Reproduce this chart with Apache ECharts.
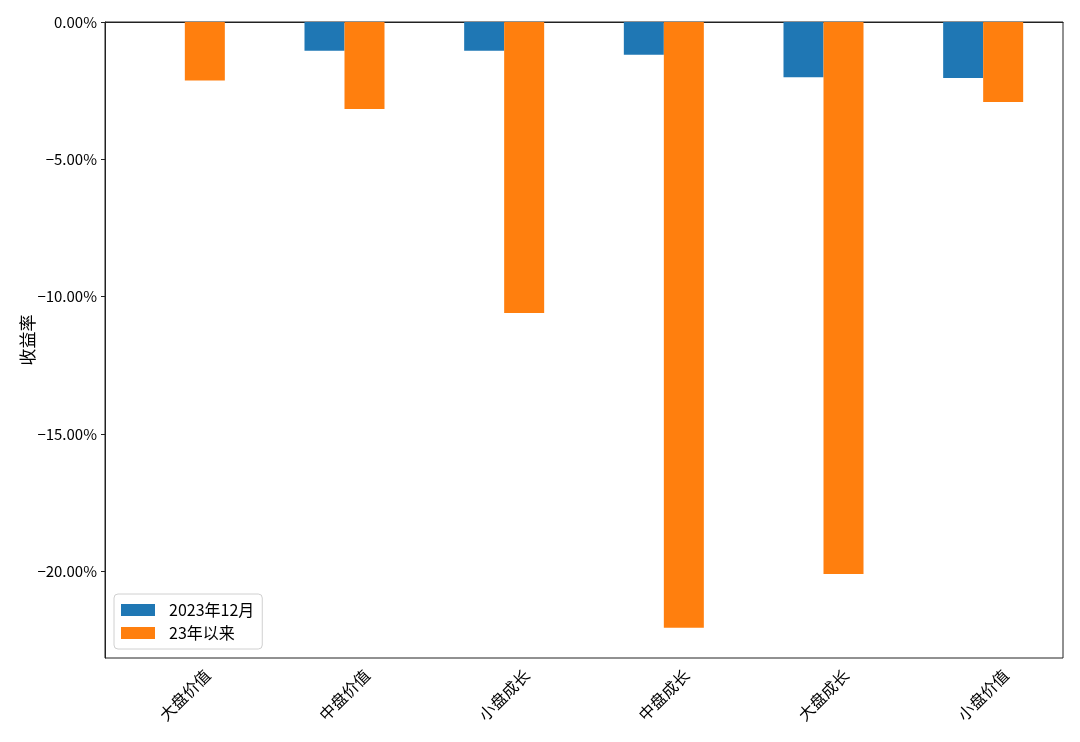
<!DOCTYPE html>
<html>
<head>
<meta charset="utf-8">
<script src="https://cdn.jsdelivr.net/npm/echarts@6/dist/echarts.min.js"></script>
<style>html,body{margin:0;padding:0;background:#fff}#c{width:1080px;height:742px}</style>
</head>
<body>
<div id="c"></div>
<script>
const categories = ['大盘价值', '中盘价值', '小盘成长', '中盘成长', '大盘成长', '小盘价值'];
const seriesNames = ['2023年12月', '23年以来'];
const dec2023 = [0, -1.05, -1.05, -1.19, -2.01, -2.04];
const since23 = [-2.13, -3.17, -10.59, -22.05, -20.09, -2.91];
const yTicks = [0, -5, -10, -15, -20];
const yMin = -23.15;

const FONT = '"Noto Sans CJK SC", sans-serif';
const chart = echarts.init(document.getElementById('c'), null, {renderer: 'canvas'});
chart.setOption({
  animation: false,
  backgroundColor: '#fff',
  grid: {left: 105, right: 17, top: 22, bottom: 84, show: true, borderColor: '#222', borderWidth: 1, backgroundColor: 'transparent'},
  legend: {
    orient: 'vertical', left: 114, top: 594,
    itemWidth: 34, itemHeight: 12, itemGap: 5,
    padding: [7, 8, 7, 7],
    borderColor: '#d0d0d0', borderWidth: 1, borderRadius: 4, backgroundColor: '#fff',
    textStyle: {fontFamily: FONT, fontSize: 16, lineHeight: 18, color: '#000', padding: [0, 0, 0, 9]},
    icon: 'rect',
    data: seriesNames
  },
  xAxis: {
    type: 'category', data: categories,
    axisLine: {lineStyle: {color: '#222', width: 1}},
    axisTick: {alignWithLabel: true, length: 4, lineStyle: {color: '#222'}},
    axisLabel: {rotate: 45, align: 'center', verticalAlign: 'middle', margin: 37, fontFamily: FONT, fontSize: 16, color: '#000'}
  },
  yAxis: {
    type: 'value', min: yMin, max: 0,
    name: '收益率', nameLocation: 'middle', nameGap: 69, nameRotate: 90, nameMoveOverlap: false,
    nameTextStyle: {fontFamily: FONT, fontSize: 17, color: '#000'},
    axisLine: {show: true, lineStyle: {color: '#222', width: 1}},
    axisTick: {show: true, length: 4, customValues: yTicks, lineStyle: {color: '#222'}},
    axisLabel: {customValues: yTicks, margin: 8, fontFamily: FONT, fontSize: 15, color: '#000',
      formatter: v => (v < 0 ? '\u2212' : '') + Math.abs(v).toFixed(2) + '%'},
    splitLine: {show: false}
  },
  series: [
    {name: seriesNames[0], type: 'bar', data: dec2023, barWidth: 40, barGap: '0%', itemStyle: {color: '#1f77b4'}},
    {name: seriesNames[1], type: 'bar', data: since23, barWidth: 40, barGap: '0%', itemStyle: {color: '#ff7f0e'}}
  ]
});
</script>
</body>
</html>
